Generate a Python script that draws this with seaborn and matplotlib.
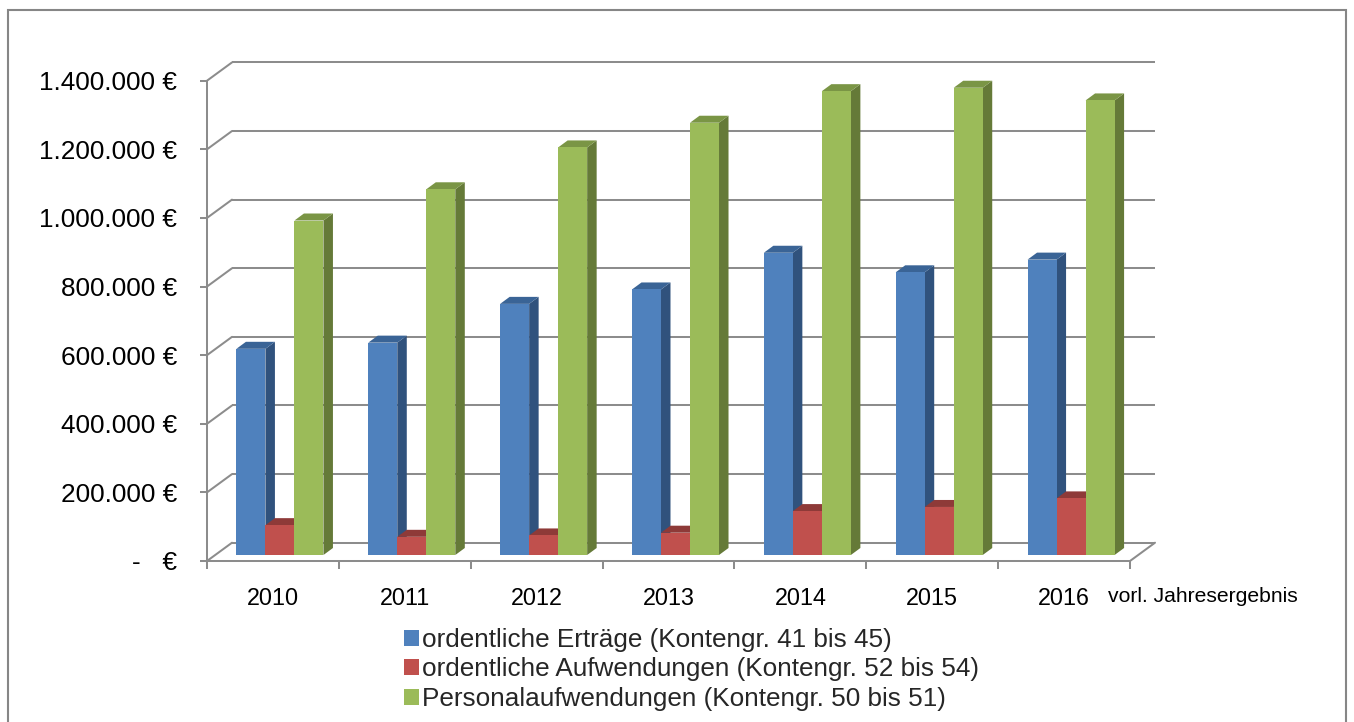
import numpy as np
import pandas as pd
import matplotlib
matplotlib.use("Agg")
import matplotlib.pyplot as plt
import matplotlib.transforms as mtransforms
from matplotlib.patches import Polygon, Patch, Rectangle
from matplotlib.lines import Line2D
from matplotlib.ticker import FixedLocator, FuncFormatter
import seaborn as sns

# ---- data -------------------------------------------------------------
years = ["2010", "2011", "2012", "2013", "2014", "2015", "2016"]
ertraege = [601000, 619000, 732000, 774000, 881000, 824000, 861000]
aufwendungen = [87000, 53000, 57000, 65000, 128000, 140000, 165000]
personal = [975000, 1066000, 1188000, 1260000, 1352000, 1362000, 1325000]
series_names = [
    "ordentliche Erträge (Kontengr. 41 bis 45)",
    "ordentliche Aufwendungen (Kontengr. 52 bis 54)",
    "Personalaufwendungen (Kontengr. 50 bis 51)",
]
y_ticks = [0, 200000, 400000, 600000, 800000, 1000000, 1200000, 1400000]
note_2016 = "vorl. Jahresergebnis"

# ---- styling ----------------------------------------------------------
front_colors = ["#4F81BD", "#C0504D", "#9BBB59"]
top_colors = ["#3A6496", "#8E3A38", "#7A9545"]
side_colors = ["#30527D", "#8A3331", "#657A38"]
grid_color = "#8C8C8C"
line_w = 1.45

df = pd.DataFrame({
    "Jahr": years * 3,
    "Betrag": ertraege + aufwendungen + personal,
    "Reihe": np.repeat(series_names, len(years)),
})

sns.set_theme(style="white")
plt.rcParams["font.family"] = ["Liberation Sans", "DejaVu Sans"]

W, H, DPI = 1354, 722, 100
fig = plt.figure(figsize=(W / DPI, H / DPI), dpi=DPI)
fig.patch.set_facecolor("white")

# front plane of the 3-D box (axis labels live here)
x0_px, x1_px, y0_px, y1_px = 207, 1130, 561, 80.7
ax = fig.add_axes([x0_px / W, 1 - y0_px / H, (x1_px - x0_px) / W, (y0_px - y1_px) / H])
ax.set_facecolor("none")

sns.barplot(data=df, x="Jahr", y="Betrag", hue="Reihe", order=years,
            hue_order=series_names, palette=front_colors, width=0.66,
            saturation=1, linewidth=0, errorbar=None, legend=False, ax=ax)
ax.set_xlim(-0.5, len(years) - 0.5)
ax.set_ylim(0, 1400000)

# depth offsets in pixels (x right, y up)
def px_shift(dx, dy):
    return mtransforms.ScaledTranslation(dx / DPI, dy / DPI, fig.dpi_scale_trans)

back_tr = ax.transData + px_shift(25, 18.3)     # back wall
bar_tr = ax.transData + px_shift(7, 6)          # front face of the columns
depth = np.array([9.5, 7.0])                    # column depth
ident = mtransforms.IdentityTransform()

# ---- walls and floor --------------------------------------------------
xl, xr = -0.5, len(years) - 0.5
for v in y_ticks:
    ax.plot([xl, xr], [v, v], color=grid_color, lw=line_w, transform=back_tr,
            zorder=1, clip_on=False, solid_capstyle="butt")
    p_front = ax.transData.transform((xl, v))
    p_back = back_tr.transform((xl, v))
    ax.add_line(Line2D([p_front[0], p_back[0]], [p_front[1], p_back[1]],
                       color=grid_color, lw=line_w, transform=ident, zorder=1, clip_on=False))
pf = ax.transData.transform((xr, 0))
pb = back_tr.transform((xr, 0))
ax.add_line(Line2D([pf[0], pb[0]], [pf[1], pb[1]], color=grid_color, lw=line_w,
                   transform=ident, zorder=1, clip_on=False))

# ---- 3-D columns ------------------------------------------------------
bars = []
for i, cont in enumerate(ax.containers):
    for j, patch in enumerate(cont.patches):
        bars.append((j, i, patch))
bars.sort(key=lambda t: (t[0], t[1]))

for k, (j, i, patch) in enumerate(bars):
    x = patch.get_x()
    w = patch.get_width()
    h = patch.get_height()
    bl, br, tl, tr = bar_tr.transform([(x, 0), (x + w, 0), (x, h), (x + w, h)])
    z = 3 + k * 0.01
    side = Polygon([br, br + depth, tr + depth, tr], closed=True,
                   facecolor=side_colors[i], edgecolor="none", transform=ident, zorder=z)
    top = Polygon([tl, tr, tr + depth, tl + depth], closed=True,
                  facecolor=top_colors[i], edgecolor="none", transform=ident, zorder=z + 0.001)
    ax.add_patch(side)
    ax.add_patch(top)
    patch.set_transform(bar_tr)
    patch.set_zorder(z + 0.002)
    patch.set_clip_on(False)
    side.set_clip_on(False)
    top.set_clip_on(False)

# ---- axes, ticks, labels ---------------------------------------------
for s in ["top", "right"]:
    ax.spines[s].set_visible(False)
for s in ["left", "bottom"]:
    ax.spines[s].set_color(grid_color)
    ax.spines[s].set_linewidth(line_w)
    ax.spines[s].set_zorder(2)

def euro(v, _pos=None):
    if v == 0:
        return "-   €"
    return f"{v:,.0f}".replace(",", ".") + " €"

ax.yaxis.set_major_locator(FixedLocator(y_ticks))
ax.yaxis.set_major_formatter(FuncFormatter(euro))
ax.tick_params(axis="y", which="major", length=5.0, width=line_w, color=grid_color,
               direction="out", pad=16.5, labelsize=18.8, labelcolor="black", left=True)

ax.set_xticks(range(len(years)))
ax.set_xticklabels(years)
ax.xaxis.set_minor_locator(FixedLocator(np.arange(-0.5, len(years), 1.0)))
ax.tick_params(axis="x", which="major", length=0, pad=19, labelsize=16.8, labelcolor="black")
ax.tick_params(axis="x", which="minor", length=5.8, width=line_w, color=grid_color,
               direction="out", bottom=True)
ax.set_xlabel("")
ax.set_ylabel("")
ax.grid(False)

fig.text(1108 / W, 1 - 597 / H, note_2016, fontsize=15.2, color="black",
         ha="left", va="center")

# ---- legend -----------------------------------------------------------
handles = [Patch(facecolor=c, edgecolor="none") for c in front_colors]
fig.legend(handles, series_names, loc="upper left",
           bbox_to_anchor=(404 / W, 1 - 628 / H), frameon=False, fontsize=18.8,
           handlelength=0.58, handleheight=0.58, handletextpad=0.12,
           labelspacing=0.21, borderpad=0, borderaxespad=0)

# ---- chart border -----------------------------------------------------
fig.add_artist(Rectangle((7.5 / W, -0.1), (1346 - 7.5) / W, 1 - 9.5 / H + 0.1,
                         transform=fig.transFigure, fill=False,
                         edgecolor="#868686", lw=1.5))

fig.savefig("out.png", dpi=DPI, facecolor="white")
